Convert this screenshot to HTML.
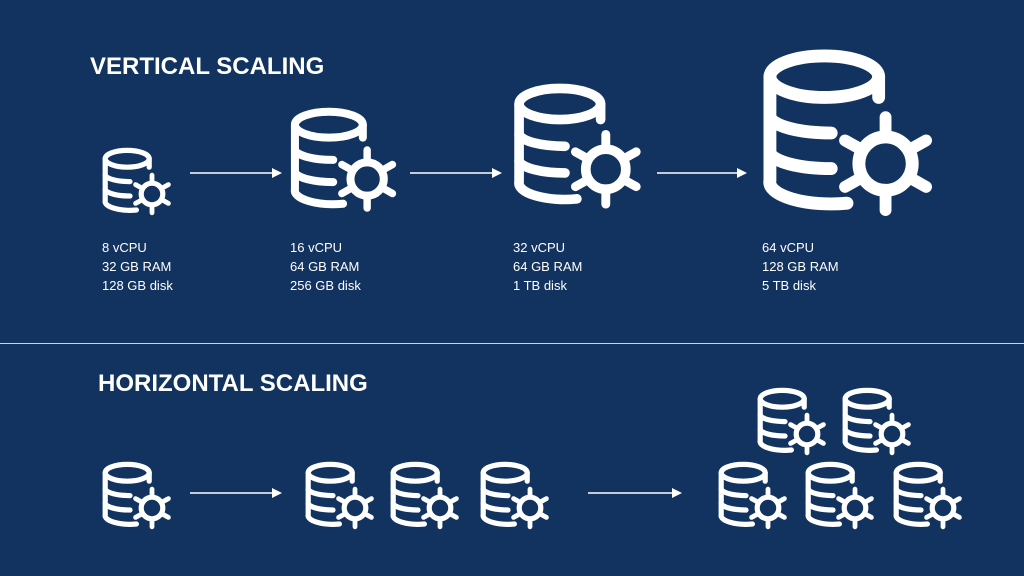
<!DOCTYPE html>
<html><head><style>
html,body{margin:0;padding:0}
body{width:1024px;height:576px;background:#12335f;position:relative;overflow:hidden;font-family:"Liberation Sans",sans-serif;color:#fff}
.t{position:absolute;font-weight:bold;font-size:24px;white-space:nowrap}
.s{position:absolute;font-size:13px;line-height:19px;white-space:nowrap}
svg.i{position:absolute;overflow:visible}
</style></head><body>
<svg width="0" height="0" style="position:absolute">
<defs>
<g id="db" fill="none" stroke="#fff" stroke-linecap="round" stroke-width="13">
<ellipse cx="63" cy="27" rx="55" ry="21"/>
<path d="M118,27 V48"/>
<path d="M8,27 V132 A62 22 0 0 0 86,155"/>
<path d="M8,68 A62 18 0 0 0 70,84"/>
<path d="M8,104 A62 18 0 0 0 70,120"/>
<circle cx="125" cy="115" r="27"/>
<g stroke-width="12">
<path d="M125,82 V68"/><path d="M125,148 V162"/>
<path d="M96.4,98.5 L84,91.5"/><path d="M153.6,98.5 L166,91.5"/>
<path d="M96.4,131.5 L84,138.5"/><path d="M153.6,131.5 L166,138.5"/>
</g>
</g>
</defs>
</svg>

<div class="t" style="left:90px;top:53px">VERTICAL SCALING</div>
<div class="t" style="left:98px;top:370px">HORIZONTAL SCALING</div>
<div style="position:absolute;left:0;top:343px;width:1024px;height:1px;background:#c9d2df"></div>

<svg class="i" style="left:102px;top:148px" width="70" height="68" viewBox="0 0 175 170"><use href="#db"/></svg>
<svg class="i" style="left:290px;top:108px" width="108" height="105" viewBox="0 0 175 170"><use href="#db"/></svg>
<svg class="i" style="left:513px;top:84px" width="130" height="126" viewBox="0 0 175 170"><use href="#db"/></svg>
<svg class="i" style="left:762px;top:50px" width="173" height="168" viewBox="0 0 175 170"><use href="#db"/></svg>

<div class="s" style="left:102px;top:238px">8 vCPU<br>32 GB RAM<br>128 GB disk</div>
<div class="s" style="left:290px;top:238px">16 vCPU<br>64 GB RAM<br>256 GB disk</div>
<div class="s" style="left:513px;top:238px">32 vCPU<br>64 GB RAM<br>1 TB disk</div>
<div class="s" style="left:762px;top:238px">64 vCPU<br>128 GB RAM<br>5 TB disk</div>

<svg class="i" style="left:0;top:0" width="1024" height="576">
<g stroke="#fff" stroke-width="1.5" fill="#fff">
<line x1="190" y1="173" x2="276" y2="173"/><path d="M282,173 L272,168 L272,178Z" stroke="none"/>
<line x1="410" y1="173" x2="496" y2="173"/><path d="M502,173 L492,168 L492,178Z" stroke="none"/>
<line x1="657" y1="173" x2="741" y2="173"/><path d="M747,173 L737,168 L737,178Z" stroke="none"/>
<line x1="190" y1="493" x2="276" y2="493"/><path d="M282,493 L272,488 L272,498Z" stroke="none"/>
<line x1="588" y1="493" x2="676" y2="493"/><path d="M682,493 L672,488 L672,498Z" stroke="none"/>
</g>
</svg>

<svg class="i" style="left:102px;top:462px" width="70" height="68" viewBox="0 0 175 170"><use href="#db"/></svg>
<svg class="i" style="left:305px;top:462px" width="70" height="68" viewBox="0 0 175 170"><use href="#db"/></svg>
<svg class="i" style="left:390px;top:462px" width="70" height="68" viewBox="0 0 175 170"><use href="#db"/></svg>
<svg class="i" style="left:480px;top:462px" width="70" height="68" viewBox="0 0 175 170"><use href="#db"/></svg>
<svg class="i" style="left:757px;top:388px" width="70" height="68" viewBox="0 0 175 170"><use href="#db"/></svg>
<svg class="i" style="left:842px;top:388px" width="70" height="68" viewBox="0 0 175 170"><use href="#db"/></svg>
<svg class="i" style="left:718px;top:462px" width="70" height="68" viewBox="0 0 175 170"><use href="#db"/></svg>
<svg class="i" style="left:805px;top:462px" width="70" height="68" viewBox="0 0 175 170"><use href="#db"/></svg>
<svg class="i" style="left:893px;top:462px" width="70" height="68" viewBox="0 0 175 170"><use href="#db"/></svg>
</body></html>
